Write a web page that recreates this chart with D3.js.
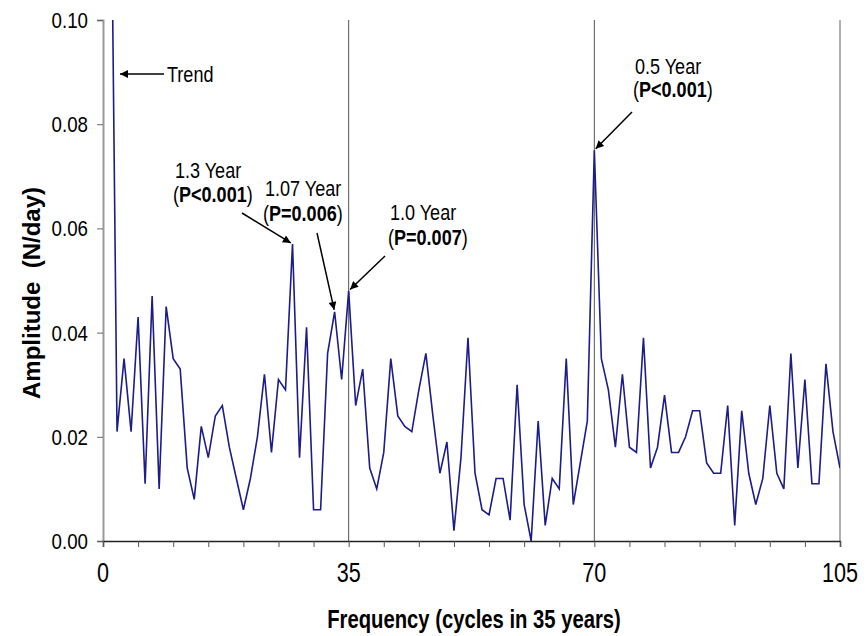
<!DOCTYPE html>
<html>
<head>
<meta charset="utf-8">
<script src="https://cdn.jsdelivr.net/npm/d3@7"></script>
<style>
  html, body { margin: 0; padding: 0; background: #fff; }
  svg { display: block; font-family: "Liberation Sans", Arial, sans-serif; }
</style>
</head>
<body>
<svg id="chart" width="868" height="636"></svg>
<script>
// Amplitude spectrum of daily counts, harmonics 1..105 over a 35-year record
const frequencies = d3.range(1, 106);
const amplitudes = [
  0.150, 0.021, 0.035, 0.021, 0.043, 0.011, 0.047, 0.010, 0.045, 0.035,
  0.033, 0.014, 0.008, 0.022, 0.016, 0.024, 0.026, 0.018, 0.012, 0.006,
  0.012, 0.020, 0.032, 0.017, 0.031, 0.029, 0.057, 0.016, 0.041, 0.006,
  0.006, 0.036, 0.044, 0.031, 0.048, 0.026, 0.033, 0.014, 0.010, 0.017,
  0.035, 0.024, 0.022, 0.021, 0.029, 0.036, 0.024, 0.013, 0.019, 0.002,
  0.016, 0.039, 0.013, 0.006, 0.005, 0.012, 0.012, 0.004, 0.030, 0.007,
  0.000, 0.023, 0.003, 0.012, 0.010, 0.035, 0.007, 0.015, 0.023, 0.075,
  0.035, 0.029, 0.018, 0.032, 0.018, 0.017, 0.039, 0.014, 0.018, 0.028,
  0.017, 0.017, 0.020, 0.025, 0.025, 0.015, 0.013, 0.013, 0.026, 0.003,
  0.025, 0.013, 0.007, 0.012, 0.026, 0.013, 0.010, 0.036, 0.014, 0.031,
  0.011, 0.011, 0.034, 0.021, 0.014
];
const yTicks = [0, 0.02, 0.04, 0.06, 0.08, 0.10];
const xLabelTicks = [0, 35, 70, 105];
const xMinorTicks = d3.range(0, 106, 5);
const referenceLines = [35, 70];

// Peak annotations: target harmonic, period text, significance text
const peakNames = ["1.3 Year", "1.07 Year", "1.0 Year", "0.5 Year"];
const peakFreqs = [27, 33, 35, 70];
const peakPvals = ["P<0.001", "P=0.006", "P=0.007", "P<0.001"];

const width = 868, height = 636;
const margin = { top: 20, right: 28, bottom: 95, left: 103 };
const innerW = width - margin.left - margin.right;
const innerH = height - margin.top - margin.bottom;

const svg = d3.select("#chart");

const x = d3.scaleLinear().domain([0, 105]).range([margin.left, margin.left + innerW]);
const y = d3.scaleLinear().domain([0, 0.10]).range([margin.top + innerH, margin.top]);

// condensed text: regular face squeezed horizontally around its anchor point
function narrowText(parent, px, py, opts = {}) {
  const { size = 22, weight = "normal", anchor = "start", sx = 0.82 } = opts;
  return parent.append("text")
    .attr("transform", `translate(${px},${py}) scale(${sx},1)`)
    .attr("text-anchor", anchor)
    .attr("font-size", size)
    .attr("font-weight", weight)
    .attr("fill", "#000");
}

const defs = svg.append("defs");
defs.append("clipPath").attr("id", "plot-clip")
  .append("rect")
  .attr("x", margin.left).attr("y", margin.top)
  .attr("width", innerW).attr("height", innerH);

const marker = defs.append("marker")
  .attr("id", "arrowhead")
  .attr("viewBox", "0 0 10 10")
  .attr("refX", 10).attr("refY", 5)
  .attr("markerWidth", 11).attr("markerHeight", 8)
  .attr("markerUnits", "userSpaceOnUse")
  .attr("orient", "auto");
marker.append("path").attr("d", "M0,0 L10,5 L0,10 Z").attr("fill", "#000");

// right frame edge
svg.append("line")
  .attr("x1", x(105)).attr("x2", x(105))
  .attr("y1", y(0.10)).attr("y2", y(0))
  .attr("stroke", "#b0b0b0").attr("stroke-width", 2);

// vertical reference lines at one-year and half-year harmonics
svg.selectAll(".ref").data(referenceLines).join("line")
  .attr("class", "ref")
  .attr("x1", d => x(d)).attr("x2", d => x(d))
  .attr("y1", y(0.10)).attr("y2", y(0))
  .attr("stroke", "#555").attr("stroke-width", 1);

// Y axis
const yAxis = svg.append("g")
  .attr("transform", `translate(${margin.left},0)`)
  .call(d3.axisLeft(y).tickValues(yTicks).tickFormat("").tickSize(6));
yAxis.select(".domain").attr("stroke", "#999").attr("stroke-width", 2);
yAxis.selectAll(".tick line").attr("stroke", "#666");
const yFmt = d3.format(".2f");
yTicks.forEach(v => {
  narrowText(svg, margin.left - 15, y(v) + 8, { size: 22, anchor: "end", sx: 0.85 })
    .text(yFmt(v));
});

// X axis: ticks every 5 harmonics, labels at 0/35/70/105
const xAxis = svg.append("g")
  .attr("transform", `translate(0,${y(0)})`)
  .call(d3.axisBottom(x).tickValues(xMinorTicks).tickSize(6).tickFormat(""));
xAxis.select(".domain").attr("stroke", "#222").attr("stroke-width", 1.5);
xAxis.selectAll(".tick line").attr("stroke", "#555");
xLabelTicks.forEach(v => {
  narrowText(svg, x(v), 582, { size: 27, anchor: "middle", sx: 0.8 }).text(v);
});

// spectrum line
const line = d3.line()
  .x((d, i) => x(frequencies[i]))
  .y(d => y(d));
svg.append("path")
  .datum(amplitudes)
  .attr("clip-path", "url(#plot-clip)")
  .attr("fill", "none")
  .attr("stroke", "#1c1c8a")
  .attr("stroke-width", 1.6)
  .attr("stroke-linejoin", "miter")
  .attr("d", line);

// axis titles
narrowText(svg, 474, 628, { size: 25, weight: "bold", anchor: "middle", sx: 0.81 })
  .text("Frequency (cycles in 35 years)");

svg.append("text")
  .attr("transform", "translate(40,293) rotate(-90)")
  .attr("text-anchor", "middle")
  .attr("font-size", 24).attr("font-weight", "bold")
  .attr("xml:space", "preserve")
  .text("Amplitude  (N/day)");

// Trend annotation
const trendY = 74;
svg.append("line")
  .attr("x1", 164).attr("y1", trendY).attr("x2", 120).attr("y2", trendY)
  .attr("stroke", "#000").attr("stroke-width", 1.5)
  .attr("marker-end", "url(#arrowhead)");
narrowText(svg, 167, 82, { size: 22 }).text("Trend");

// Peak annotations: label block position and arrow start for each peak
const labelLayout = [
  { lx: 175, y1: 178, y2: 202, ax: 242, ay: 213 },
  { lx: 265, y1: 196, y2: 221, ax: 317, ay: 233 },
  { lx: 390, y1: 220, y2: 245, ax: 385, ay: 256 },
  { lx: 635, y1: 74,  y2: 97,  ax: 632, ay: 112 }
];

peakFreqs.forEach((f, i) => {
  const L = labelLayout[i];
  narrowText(svg, L.lx, L.y1, { size: 22 }).text(peakNames[i]);
  const t2 = narrowText(svg, L.lx - 2, L.y2, { size: 22 });
  t2.append("tspan").text("(");
  t2.append("tspan").attr("font-weight", "bold").text(peakPvals[i]);
  t2.append("tspan").text(")");

  const px = x(f), py = y(amplitudes[f - 1]);
  // stop the arrow at the peak, pulled back slightly along its direction
  const dx = px - L.ax, dy = py - L.ay, len = Math.hypot(dx, dy);
  svg.append("line")
    .attr("x1", L.ax).attr("y1", L.ay)
    .attr("x2", px - dx / len * 2).attr("y2", py - dy / len * 2)
    .attr("stroke", "#000").attr("stroke-width", 1.5)
    .attr("marker-end", "url(#arrowhead)");
});
</script>
</body>
</html>
